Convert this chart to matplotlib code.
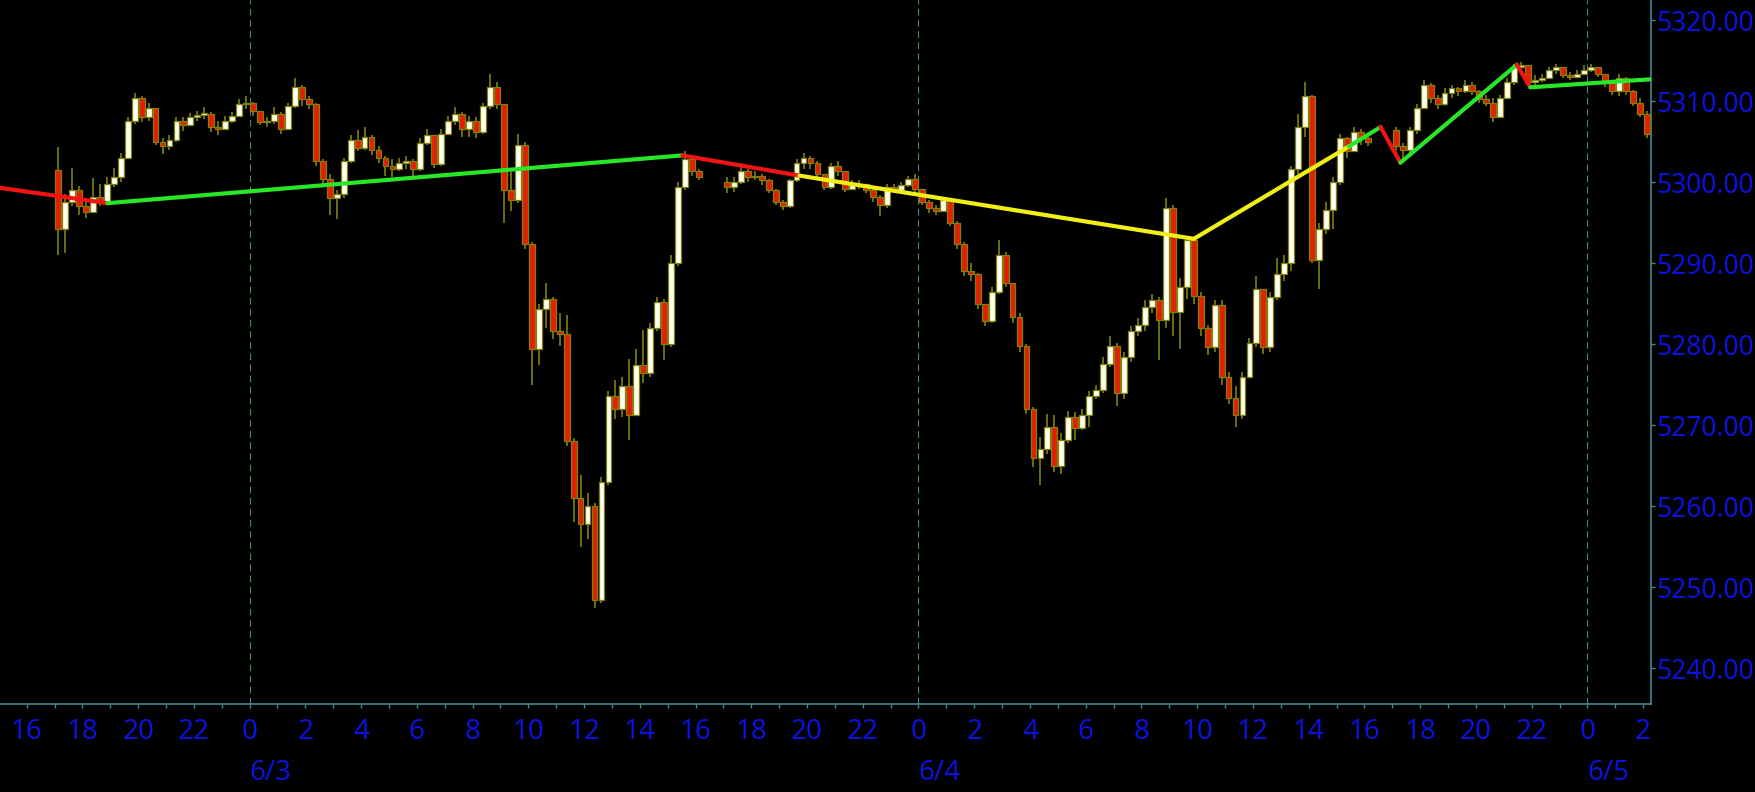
import numpy as np
import matplotlib
matplotlib.use('Agg')
import matplotlib.pyplot as plt

plt.rcParams['font.family'] = ['Noto Sans', 'DejaVu Sans']

# 15-minute bars, time in hours from 6/3 00:00, open = previous close
# session 1: 6/2 17:00 -> 6/3 16:00
s1_start, s1_open = -7.0, 5301.5
s1_close = [5294.2, 5297.6, 5299.0, 5297.0, 5296.3, 5298.2, 5297.6, 5299.8, 5300.6, 5303.0,
            5307.5, 5310.4, 5308.0, 5309.2, 5305.0, 5304.4, 5305.2, 5307.6, 5307.0, 5308.0,
            5308.3, 5308.4, 5306.8, 5306.5, 5307.6, 5308.2, 5309.6, 5309.8, 5308.8, 5307.4,
            5307.6, 5308.4, 5306.6, 5309.4, 5311.8, 5310.2, 5309.6, 5302.6, 5300.4, 5298.0,
            5298.5, 5302.6, 5305.2, 5304.2, 5305.6, 5304.0, 5303.0, 5302.0, 5301.6, 5302.4,
            5302.6, 5301.6, 5304.8, 5305.8, 5302.2, 5306.0, 5307.6, 5308.4, 5306.6, 5307.6,
            5306.2, 5309.4, 5311.8, 5309.6, 5299.0, 5297.8, 5304.6, 5292.4, 5279.4, 5284.4,
            5285.6, 5281.6, 5281.2, 5268.0, 5261.0, 5257.8, 5260.0, 5248.4, 5263.0, 5273.6,
            5272.0, 5274.8, 5271.2, 5277.4, 5276.4, 5282.0, 5285.2, 5280.0, 5290.0, 5299.4,
            5302.8, 5301.4, 5300.6]
s1_high = [5304.3, 5298.5, 5301.8, 5299.5, 5297.8, 5300.5, 5299.8, 5300.6, 5301.8, 5303.6,
           5308.0, 5311.0, 5310.6, 5309.8, 5309.2, 5305.4, 5305.8, 5308.0, 5308.0, 5308.5,
           5308.8, 5309.3, 5308.6, 5307.5, 5308.2, 5308.7, 5310.2, 5310.6, 5309.9, 5308.6,
           5308.0, 5309.3, 5308.6, 5309.8, 5312.8, 5312.0, 5310.6, 5309.8, 5302.8, 5301.0,
           5299.0, 5303.0, 5305.8, 5306.4, 5306.8, 5305.8, 5304.4, 5303.2, 5302.8, 5303.0,
           5303.2, 5302.8, 5305.4, 5306.6, 5305.8, 5306.6, 5308.2, 5309.3, 5308.6, 5308.2,
           5308.0, 5309.8, 5313.4, 5312.4, 5308.8, 5301.2, 5306.0, 5305.0, 5292.6, 5285.0,
           5287.6, 5285.8, 5283.8, 5283.6, 5268.4, 5263.8, 5261.6, 5260.4, 5263.6, 5274.2,
           5275.6, 5276.0, 5278.2, 5279.4, 5281.8, 5282.6, 5285.8, 5285.6, 5291.0, 5300.0,
           5303.8, 5303.0, 5301.6]
s1_low = [5291.0, 5291.3, 5297.0, 5296.0, 5295.6, 5296.2, 5297.0, 5297.4, 5299.4, 5300.0,
          5302.8, 5307.2, 5307.4, 5307.6, 5304.6, 5303.5, 5304.0, 5305.0, 5306.3, 5307.0,
          5307.6, 5307.8, 5306.2, 5305.8, 5306.8, 5307.3, 5308.0, 5309.0, 5308.2, 5307.0,
          5306.8, 5307.2, 5306.0, 5306.4, 5309.2, 5309.4, 5309.0, 5302.0, 5299.8, 5296.0,
          5295.4, 5298.0, 5302.4, 5303.8, 5304.0, 5303.4, 5302.4, 5300.8, 5300.6, 5301.4,
          5301.6, 5300.6, 5301.4, 5304.6, 5301.8, 5302.0, 5305.8, 5307.0, 5305.6, 5305.6,
          5305.5, 5306.0, 5309.0, 5309.0, 5295.0, 5296.4, 5297.4, 5291.8, 5275.0, 5277.4,
          5282.0, 5280.6, 5279.8, 5267.4, 5258.0, 5255.0, 5256.0, 5247.4, 5248.0, 5262.6,
          5270.8, 5271.0, 5268.2, 5271.4, 5275.2, 5276.0, 5281.6, 5278.0, 5279.6, 5289.6,
          5299.0, 5300.8, 5300.2]

# session 2: 6/3 17:00 -> 6/4 16:00
s2_start, s2_open = 17.0, 5300.0
s2_close = [5299.4, 5300.0, 5301.4, 5300.6, 5300.8, 5300.2, 5299.0, 5297.6, 5297.0, 5300.2,
            5302.4, 5303.0, 5302.4, 5301.0, 5299.4, 5302.0, 5301.4, 5299.2, 5299.6, 5299.8,
            5299.0, 5298.2, 5297.2, 5299.4, 5299.0, 5299.6, 5300.4, 5299.2, 5297.6, 5296.8,
            5296.4, 5297.8, 5295.0, 5292.4, 5289.0, 5288.6, 5285.0, 5282.8, 5286.4, 5291.0,
            5287.6, 5283.4, 5279.8, 5272.0, 5266.0, 5267.0, 5269.8, 5265.0, 5268.2, 5271.0,
            5269.6, 5271.2, 5273.6, 5274.4, 5277.6, 5279.8, 5274.0, 5278.4, 5281.6, 5282.4,
            5284.6, 5285.4, 5283.0, 5296.8, 5284.0, 5287.0, 5292.8, 5286.0, 5282.0, 5279.6,
            5284.8, 5276.0, 5273.4, 5271.2, 5276.0, 5280.2, 5286.8, 5279.6, 5285.8, 5288.6,
            5290.0, 5301.6, 5306.8, 5310.6, 5290.4, 5294.2, 5296.6, 5300.0, 5305.4, 5303.8,
            5306.2, 5305.4, 5305.0]
s2_high = [5300.6, 5300.6, 5302.0, 5301.6, 5301.4, 5301.0, 5300.4, 5299.2, 5297.8, 5300.4,
           5302.8, 5303.6, 5303.2, 5302.6, 5300.6, 5302.4, 5302.6, 5301.2, 5300.2, 5300.2,
           5299.8, 5299.2, 5298.4, 5299.8, 5299.8, 5300.0, 5300.8, 5301.0, 5299.2, 5297.8,
           5297.2, 5298.2, 5297.6, 5295.2, 5292.6, 5290.0, 5288.8, 5285.0, 5287.0, 5292.9,
           5291.4, 5287.6, 5283.8, 5280.0, 5272.2, 5268.6, 5271.4, 5271.2, 5269.0, 5271.8,
           5271.6, 5272.0, 5274.2, 5275.0, 5278.4, 5281.0, 5280.2, 5279.0, 5282.2, 5283.2,
           5285.4, 5286.2, 5285.8, 5298.0, 5297.2, 5288.2, 5293.2, 5292.9, 5286.4, 5282.4,
           5285.4, 5285.4, 5276.6, 5274.8, 5276.6, 5280.8, 5288.4, 5286.4, 5286.4, 5290.6,
           5291.0, 5302.0, 5308.4, 5312.4, 5310.8, 5295.0, 5297.6, 5300.6, 5306.0, 5305.6,
           5306.8, 5306.6, 5306.0]
s2_low = [5298.6, 5298.8, 5299.8, 5300.0, 5300.2, 5299.6, 5298.6, 5297.2, 5296.5, 5296.8,
          5300.0, 5301.6, 5301.6, 5300.6, 5299.0, 5299.2, 5300.8, 5298.8, 5299.0, 5299.2,
          5298.6, 5297.6, 5295.8, 5296.8, 5298.6, 5298.8, 5299.4, 5298.8, 5297.2, 5296.2,
          5296.0, 5296.6, 5294.6, 5291.8, 5288.4, 5287.8, 5284.4, 5282.2, 5282.6, 5286.2,
          5287.0, 5282.6, 5279.0, 5271.4, 5264.8, 5262.6, 5266.4, 5264.2, 5264.0, 5267.8,
          5268.2, 5269.4, 5269.8, 5273.2, 5274.0, 5277.2, 5272.4, 5273.2, 5277.8, 5281.0,
          5281.6, 5283.8, 5278.0, 5282.0, 5281.0, 5279.4, 5285.6, 5285.0, 5281.0, 5278.6,
          5279.0, 5275.0, 5272.6, 5269.8, 5270.8, 5276.4, 5279.6, 5278.8, 5279.0, 5285.4,
          5287.8, 5289.0, 5301.0, 5305.6, 5290.0, 5286.8, 5293.6, 5294.2, 5299.6, 5303.0,
          5304.8, 5304.6, 5304.4]

# session 3: 6/4 17:00 -> 6/5 02:00
s3_start, s3_open = 41.0, 5306.4
s3_close = [5304.4, 5304.0, 5306.4, 5309.2, 5312.0, 5310.4, 5309.6, 5311.0, 5311.6, 5311.2,
            5312.0, 5311.2, 5310.2, 5309.8, 5308.0, 5310.4, 5312.4, 5314.2, 5314.4, 5312.4,
            5312.6, 5312.8, 5313.8, 5314.2, 5313.2, 5313.0, 5313.4, 5313.8, 5314.2, 5313.4,
            5312.4, 5311.2, 5312.8, 5311.2, 5309.8, 5308.4, 5306.0]
s3_high = [5306.8, 5304.8, 5306.8, 5309.6, 5312.6, 5312.2, 5310.8, 5311.6, 5312.0, 5311.8,
           5312.6, 5312.4, 5311.4, 5310.8, 5310.4, 5310.8, 5312.8, 5314.6, 5314.8, 5314.4,
           5313.2, 5313.4, 5314.2, 5314.6, 5314.2, 5313.6, 5313.8, 5314.4, 5314.6, 5314.2,
           5313.4, 5312.6, 5313.4, 5313.0, 5311.4, 5310.4, 5308.8]
s3_low = [5303.8, 5302.6, 5303.6, 5306.0, 5309.0, 5309.8, 5309.0, 5309.4, 5310.4, 5310.6,
          5311.0, 5310.8, 5309.8, 5309.4, 5307.4, 5308.0, 5310.4, 5312.0, 5313.6, 5312.0,
          5312.0, 5312.4, 5312.8, 5313.4, 5312.8, 5312.6, 5312.8, 5313.2, 5313.6, 5313.0,
          5311.8, 5310.8, 5310.6, 5310.8, 5309.4, 5308.0, 5305.4]

# zigzag overlay
zz_t = [-8.96, -5.1, 15.53, 19.73, 33.88, 39.44, 40.58, 41.29, 45.47, 45.95, 50.3]
zz_p = [5299.3, 5297.4, 5303.3, 5300.8, 5293.0, 5304.4, 5306.8, 5302.4, 5314.5, 5311.7, 5312.7]
zz_col = ['#f01414', '#28e628', '#f01414', '#f0f014', '#f0f014',
          '#28e628', '#f01414', '#28e628', '#f01414', '#28e628']

days = [0, 24, 48]
day_labels = ['6/3', '6/4', '6/5']
y_ticks = [5240, 5250, 5260, 5270, 5280, 5290, 5300, 5310, 5320]

blue = '#0a12dc'
teal = '#3f8c8c'
olive = '#80800a'


def session(start, first_open, close, high, low):
    t = start + 0.25 * np.arange(len(close)) + 0.125
    o = np.r_[first_open, close[:-1]]
    return t, o, np.array(close), np.array(high), np.array(low)


parts = [session(s1_start, s1_open, s1_close, s1_high, s1_low),
         session(s2_start, s2_open, s2_close, s2_high, s2_low),
         session(s3_start, s3_open, s3_close, s3_high, s3_low)]
t, o, c, h, l = [np.concatenate(p) for p in zip(*parts)]

fig = plt.figure(figsize=(17.55, 7.92), dpi=100, facecolor='black')
ax = fig.add_axes([0, 0.1111, 0.9407, 0.8889])
ax.set_facecolor('black')

for d in days:
    ax.axvline(d, color=teal, lw=0.8, ls=(0, (6, 4)), zorder=1)

ax.vlines(t, l, h, color=olive, lw=1.2, zorder=2)
up = c >= o
body = np.maximum(np.abs(c - o), 0.2)
ax.bar(t[up], body[up], bottom=o[up], width=0.21, color='#fffff0',
       edgecolor=olive, lw=0.9, zorder=3)
ax.bar(t[~up], body[~up], bottom=c[~up], width=0.21, color='#e61e00',
       edgecolor=olive, lw=0.9, zorder=3)

for i, col in enumerate(zz_col):
    ax.plot(zz_t[i:i + 2], zz_p[i:i + 2], color=col, lw=3.0,
            solid_capstyle='round', zorder=4)

ax.set_xlim(-8.956, 50.28)
ax.set_ylim(5235.58, 5322.48)

hours = np.arange(-8, 51)
ax.set_xticks(hours)
ax.set_xticklabels([str(int(x % 24)) if x % 2 == 0 else '' for x in hours])
ax.tick_params(axis='x', colors=teal, labelcolor=blue, length=3, width=1,
               pad=7, labelsize=20)
for d, lab in zip(days, day_labels):
    ax.text(d, -0.108, lab, transform=ax.get_xaxis_transform(), ha='left',
            va='baseline', color=blue, fontsize=20)

ax.yaxis.tick_right()
ax.set_yticks(y_ticks)
ax.set_yticklabels([f'{v:.2f}' for v in y_ticks])
ax.tick_params(axis='y', colors=teal, labelcolor=blue, length=3, width=1,
               pad=1.0, labelsize=19)

for s in ['left', 'top']:
    ax.spines[s].set_visible(False)
for s in ['right', 'bottom']:
    ax.spines[s].set_color(teal)
    ax.spines[s].set_linewidth(1.2)

fig.savefig('out.png', dpi=100, facecolor='black')
